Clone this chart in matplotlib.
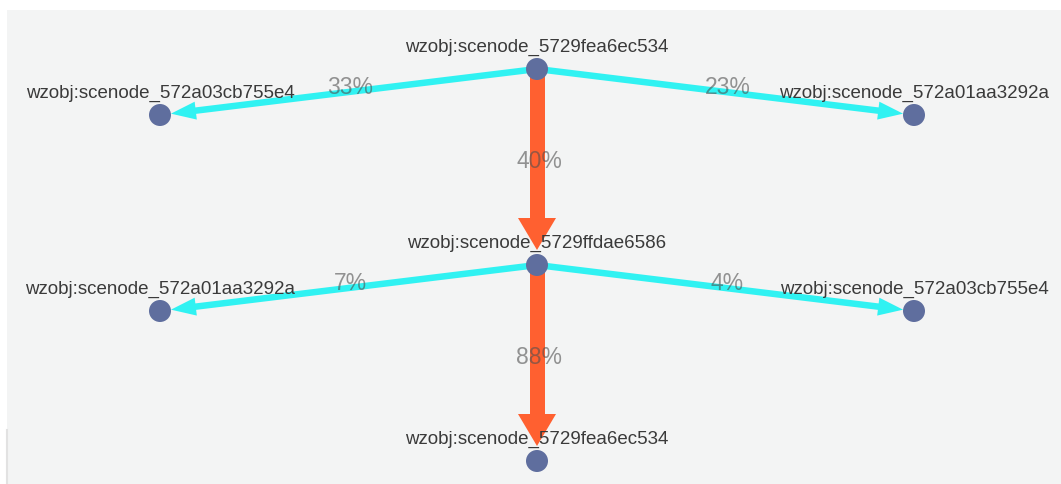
import numpy as np
import matplotlib
matplotlib.use("Agg")
import matplotlib.pyplot as plt
from matplotlib.patches import Polygon, Circle, Rectangle

# ---- data ----
node_names = [
    "wzobj:scenode_5729fea6ec534",
    "wzobj:scenode_572a03cb755e4",
    "wzobj:scenode_572a01aa3292a",
    "wzobj:scenode_5729ffdae6586",
    "wzobj:scenode_572a01aa3292a",
    "wzobj:scenode_572a03cb755e4",
    "wzobj:scenode_5729fea6ec534",
]
node_level = [0, 0, 0, 1, 1, 1, 2]
node_side = [0, -1, 1, 0, -1, 1, 0]
edge_src = [0, 0, 0, 3, 3, 3]
edge_dst = [1, 2, 3, 4, 5, 6]
edge_pct = [33, 23, 40, 7, 4, 88]
edge_main = [False, False, True, False, False, True]

# ---- style ----
W, H = 1061, 484
BG = "#f3f4f4"
CYAN = "#30f2f2"
ORANGE = "#ff6030"
NODE = "#5f6e9e"
R = 11

fig = plt.figure(figsize=(W / 100, H / 100), dpi=100)
ax = fig.add_axes([0, 0, 1, 1])
ax.set_xlim(0, W)
ax.set_ylim(H, 0)
ax.axis("off")
fig.patch.set_facecolor("white")
ax.add_patch(Rectangle((7, 10), W - 7, H - 10, facecolor=BG, edgecolor="none", zorder=0))
ax.plot([7, 7], [430, H], color="#e2e2e2", lw=1.5, zorder=0.5)

cx, dx = 537, 377
y0, dy, side_dy = 69, 196, 46
pos = []
for lv, sd in zip(node_level, node_side):
    x = cx + sd * dx
    y = y0 + lv * dy + (side_dy if sd != 0 else 0)
    pos.append(np.array([x, y], dtype=float))

px2pt = 72 / 100
for s, d, p, main in zip(edge_src, edge_dst, edge_pct, edge_main):
    a, b = pos[s], pos[d]
    v = b - a
    L = np.hypot(*v)
    u = v / L
    n = np.array([-u[1], u[0]])
    if main:
        col, lw, hl, hw, gap = ORANGE, 15, 32, 19, 15
    else:
        col, lw, hl, hw, gap = CYAN, 6.5, 25, 9, R
    tip = b - u * gap
    base = tip - u * hl
    ax.plot([a[0], base[0] + u[0] * 2], [a[1], base[1] + u[1] * 2], color=col,
            lw=lw * px2pt, solid_capstyle="butt", zorder=2)
    ax.add_patch(Polygon([tip, base + n * hw, base - n * hw], closed=True,
                         facecolor=col, edgecolor="none", zorder=2))
    m = (a + b) / 2
    ax.text(m[0] + 2, m[1] - 5, f"{p}%", ha="center", va="center", fontsize=16.5,
            color="#505050", alpha=0.6, family="Liberation Sans", zorder=4)

for (x, y), name in zip(pos, node_names):
    ax.add_patch(Circle((x, y), R, facecolor=NODE, edgecolor="none", zorder=3))
    ax.text(x, y - 22, name, ha="center", va="center", fontsize=13.5,
            color="#3a3a3a", family="Liberation Sans", zorder=4)

fig.savefig("out.png", dpi=100, facecolor="white")
